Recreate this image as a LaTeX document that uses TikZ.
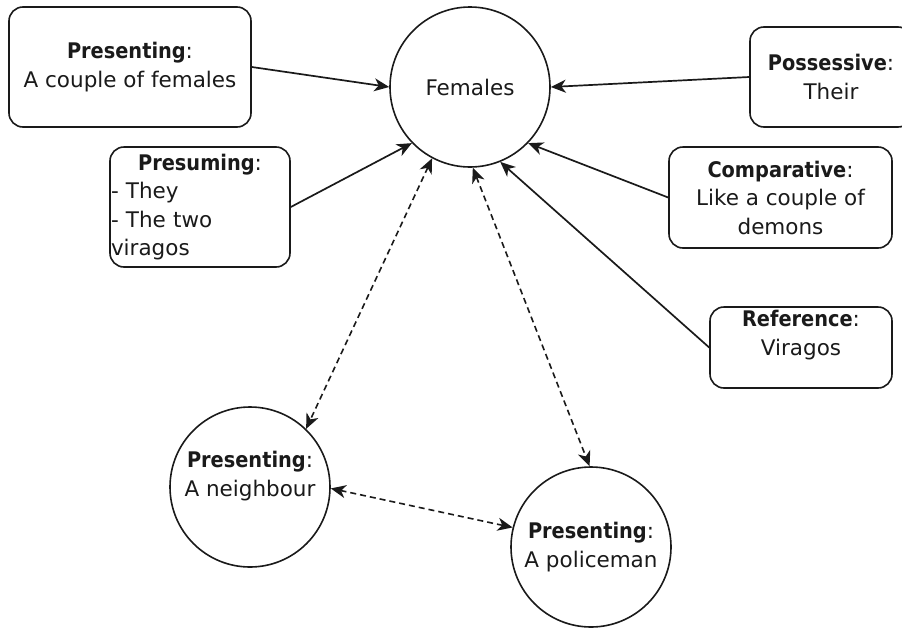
\documentclass[tikz,border=0pt]{standalone}
\usepackage{fontspec}
\setmainfont{DejaVu Sans}[BoldFont={DejaVu Sans Condensed Bold}]
\usetikzlibrary{arrows.meta}
\definecolor{ink}{HTML}{1A1A1A}
\newcommand{\labfont}{\fontsize{21.5}{28.5}\selectfont}
\begin{document}
\begin{tikzpicture}[x=1pt,y=-1pt,
  line width=1.6pt,
  lbox/.style={draw=ink, rounded corners=14pt, inner sep=0pt, align=center,
    font=\labfont, text=ink},
  ring/.style={draw=ink, circle, minimum size=160pt, inner sep=0pt,
    align=center, font=\labfont, text=ink},
  txt/.style={inner sep=0pt, align=center, font=\labfont, text=ink},
  link/.style={draw=ink, line width=1.7pt,
    -{Stealth[length=15pt,width=13pt,inset=4.5pt]}},
  dlink/.style={draw=ink, line width=1.6pt, dash pattern=on 6pt off 4pt,
    {Stealth[length=15pt,width=13pt,inset=4.5pt]}-{Stealth[length=15pt,width=13pt,inset=4.5pt]}}]
\useasboundingbox (0,0) rectangle (902,627);
\fill[white] (0,0) rectangle (902,627);

% central concept
\node[ring] (fem) at (470,87) {Females};

% boxes around it
\node[lbox, minimum width=242pt, minimum height=120pt] (pcf) at (130,67)
  {\textbf{Presenting}:\\A couple of females};
\node[lbox, minimum width=180pt, minimum height=120pt, align=left, text width=178pt]
  (pre) at (200,207)
  {\makebox[178pt]{\textbf{Presuming}:}\\- They\\- The two\\viragos};
\node[lbox, minimum width=162pt, minimum height=100pt] (pos) at (831,77)
  {\textbf{Possessive}:\\Their};
\node[lbox, minimum width=223pt, minimum height=101pt] (cmp) at (780.5,197.5)
  {\textbf{Comparative}:\\Like a couple of\\demons};
\node[lbox, minimum width=182pt, minimum height=81pt] (ref) at (801,347.5) {};
\node[txt] (refT) at (801,335) {\textbf{Reference}:\\Viragos};

% other participants
\node[ring] (nb) at (250,487) {};
\node[txt] (nbT) at (250,476) {\textbf{Presenting}:\\A neighbour};
\node[ring] (pol) at (591,547) {\textbf{Presenting}:\\A policeman};

% solid links into the central concept
\draw[link] (pcf.east) -- (fem.west);
\draw[link] (pre.east) -- (fem.224);
\draw[link] (pos.west) -- (fem.east);
\draw[link] (cmp.west) -- (fem.316);
\draw[link] (ref.west) -- (fem.292);

% dashed two-way links
\draw[dlink] (fem.242) -- (nb.46);
\draw[dlink] (fem.272) -- (pol.91);
\draw[dlink] (nb.359) -- (pol.166);
\end{tikzpicture}
\end{document}
